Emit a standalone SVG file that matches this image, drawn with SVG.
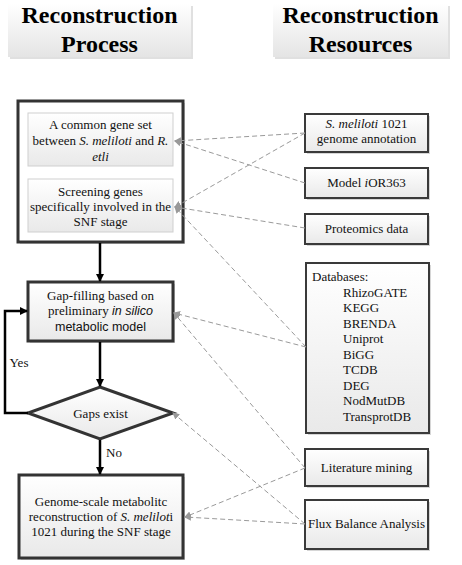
<svg xmlns="http://www.w3.org/2000/svg" width="462" height="565" viewBox="0 0 462 565">
<defs>
<linearGradient id="g" x1="0" y1="0" x2="0" y2="1"><stop offset="0" stop-color="#ffffff"/><stop offset="1" stop-color="#e9e9e9"/></linearGradient>
<linearGradient id="hg" x1="0" y1="0" x2="0" y2="1"><stop offset="0" stop-color="#ffffff"/><stop offset="1" stop-color="#e4e4e4"/></linearGradient>
<marker id="ab" markerWidth="8" markerHeight="8" refX="7" refY="4" orient="auto" markerUnits="userSpaceOnUse"><path d="M0,0 L8,4 L0,8 z" fill="#000"/></marker>
<marker id="ag" markerWidth="7" markerHeight="7" refX="6" refY="3.5" orient="auto" markerUnits="userSpaceOnUse"><path d="M0,0 L7,3.5 L0,7 z" fill="#999"/></marker>
</defs>
<style>
.t{font-family:"Liberation Serif","Times New Roman",serif;font-size:13px;fill:#111;text-anchor:middle}
.st{text-anchor:start}
.s{font-family:"Liberation Sans",Arial,sans-serif;font-size:12.5px}
.h{font-family:"Liberation Serif","Times New Roman",serif;font-size:24px;font-weight:bold;fill:#000;text-anchor:middle}
.i{font-style:italic}
.thick{fill:url(#g);stroke:#333;stroke-width:3}
.res{fill:url(#g);stroke:#3a3a3a;stroke-width:2}
.sh{fill:#d6d6d6}
.inner{fill:url(#g);stroke:#cfcfcf;stroke-width:1}
.d{fill:none;stroke:#9a9a9a;stroke-width:1;stroke-dasharray:5,3;marker-end:url(#ag)}
.sl{fill:none;stroke:#000;stroke-width:2.5;marker-end:url(#ab)}
</style>

<g id="header-process">
<rect x="10" y="6" width="183" height="53" fill="#e0e0e0"/>
<rect x="8" y="4" width="183" height="53" fill="url(#hg)"/>
<text class="h" x="99.5" y="23">Reconstruction</text>
<text class="h" x="99.5" y="52">Process</text>
</g>
<g id="header-resources">
<rect x="275" y="6" width="175" height="53" fill="#e0e0e0"/>
<rect x="273" y="4" width="175" height="53" fill="url(#hg)"/>
<text class="h" x="360.5" y="23">Reconstruction</text>
<text class="h" x="360.5" y="52">Resources</text>
</g>

<g id="gene-selection">
<rect class="sh" x="20" y="103" width="165" height="141"/>
<rect x="18" y="101" width="165" height="141" fill="#fff" stroke="#333" stroke-width="3"/>
</g>
<g id="common-gene-set">
<rect class="inner" x="28" y="113" width="145" height="53"/>
<text class="t" x="100.5" y="129">A common gene set</text>
<text class="t" x="100.5" y="145">between <tspan class="i">S. meliloti</tspan> and <tspan class="i">R.</tspan></text>
<text class="t i" x="100.5" y="161">etli</text>
</g>
<g id="screening">
<rect class="inner" x="28" y="179" width="145" height="53"/>
<text class="t" x="100.5" y="196">Screening genes</text>
<text class="t" x="100.5" y="211">specifically involved in the</text>
<text class="t" x="100.5" y="226">SNF stage</text>
</g>
<g id="gap-filling">
<rect class="sh" x="30" y="284" width="145" height="59"/>
<rect class="thick" x="28" y="282" width="145" height="59"/>
<text class="t" x="100.5" y="300">Gap-filling based on</text>
<text class="t" x="100.5" y="315">preliminary <tspan class="s i">in silico</tspan></text>
<text class="t s" x="100.5" y="331">metabolic model</text>
</g>
<g id="gaps-exist">
<polygon class="thick" points="100,387 173,413 100,439 28,413"/>
<text class="t" x="100.5" y="418">Gaps exist</text>
</g>
<g id="result">
<rect class="sh" x="21" y="477" width="164" height="83"/>
<rect class="thick" x="19" y="475" width="164" height="83"/>
<text class="t" x="101" y="506">Genome-scale metabolitc</text>
<text class="t" x="101" y="521">reconstruction of <tspan class="i">S. melilot</tspan>i</text>
<text class="t" x="101" y="536">1021 during the SNF stage</text>
</g>

<g id="genome-annotation">
<rect class="sh" x="307" y="116" width="123" height="38"/>
<rect class="res" x="305" y="114" width="123" height="38"/>
<text class="t" x="366.5" y="128"><tspan class="i">S. meliloti</tspan> 1021</text>
<text class="t" x="366.5" y="143">genome annotation</text>
</g>
<g id="model-ior363">
<rect class="sh" x="307" y="170" width="123" height="30"/>
<rect class="res" x="305" y="168" width="123" height="30"/>
<text class="t" x="366.5" y="187">Model <tspan class="i">i</tspan>OR363</text>
</g>
<g id="proteomics">
<rect class="sh" x="307" y="216" width="123" height="30"/>
<rect class="res" x="305" y="214" width="123" height="30"/>
<text class="t" x="366.5" y="233">Proteomics data</text>
</g>
<g id="databases">
<rect class="sh" x="308" y="265" width="123" height="170"/>
<rect class="res" x="306" y="263" width="123" height="170"/>
<text class="t st" x="312" y="281">Databases:</text>
<text class="t st" x="343" y="297">RhizoGATE</text>
<text class="t st" x="343" y="312">KEGG</text>
<text class="t st" x="343" y="328">BRENDA</text>
<text class="t st" x="343" y="343">Uniprot</text>
<text class="t st" x="343" y="359">BiGG</text>
<text class="t st" x="343" y="374">TCDB</text>
<text class="t st" x="343" y="390">DEG</text>
<text class="t st" x="343" y="405">NodMutDB</text>
<text class="t st" x="343" y="421">TransprotDB</text>
</g>
<g id="literature">
<rect class="sh" x="307" y="451" width="123" height="37"/>
<rect class="res" x="305" y="449" width="123" height="37"/>
<text class="t" x="366.5" y="472">Literature mining</text>
</g>
<g id="fba">
<rect class="sh" x="307" y="502" width="123" height="49"/>
<rect class="res" x="305" y="500" width="123" height="49"/>
<text class="t" x="366.5" y="528">Flux Balance Analysis</text>
</g>

<g id="connectors">
<line class="sl" x1="100" y1="243" x2="100" y2="281"/>
<line class="sl" x1="100" y1="342" x2="100" y2="386"/>
<polyline class="sl" points="28,413 5,413 5,311 27,311"/>
<text class="t" x="19" y="367">Yes</text>
<line class="sl" x1="100" y1="440" x2="100" y2="474"/>
<text class="t" x="114" y="457">No</text>
<line class="d" x1="305" y1="133" x2="175" y2="141"/>
<line class="d" x1="305" y1="183" x2="175" y2="141"/>
<line class="d" x1="305" y1="133" x2="175" y2="207"/>
<line class="d" x1="305" y1="228" x2="175" y2="207"/>
<line class="d" x1="306" y1="347" x2="175" y2="207"/>
<line class="d" x1="306" y1="347" x2="174" y2="313"/>
<line class="d" x1="305" y1="468" x2="174" y2="313"/>
<line class="d" x1="305" y1="524" x2="173" y2="413"/>
<line class="d" x1="305" y1="468" x2="185" y2="517"/>
<line class="d" x1="305" y1="524" x2="185" y2="517"/>
</g>
</svg>
